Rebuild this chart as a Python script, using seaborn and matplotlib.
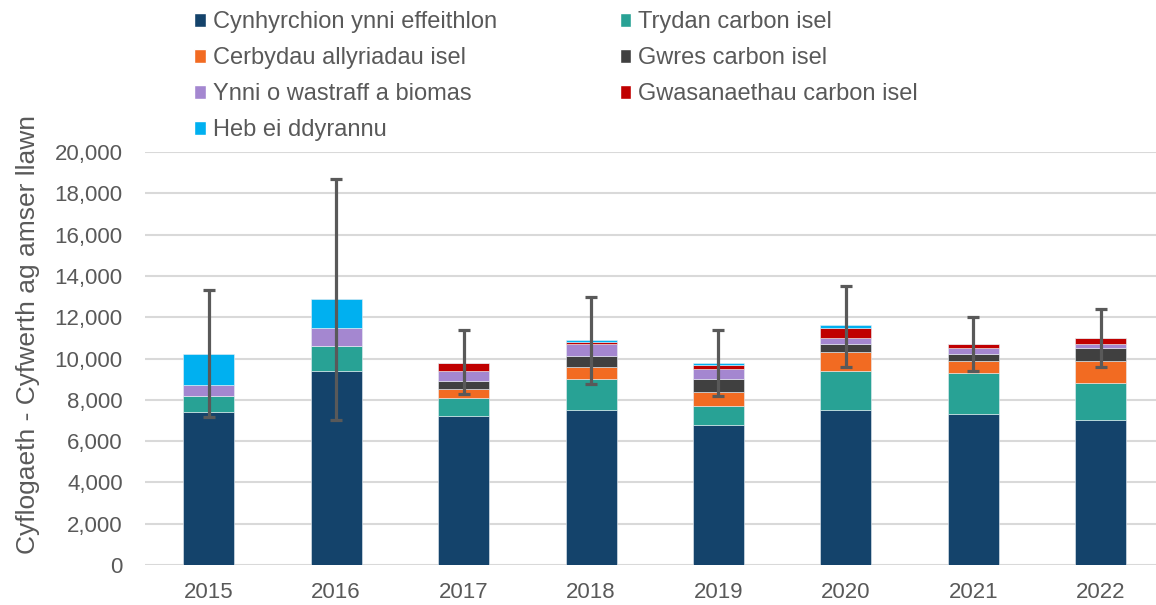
import numpy as np
import pandas as pd
import matplotlib
matplotlib.use("Agg")
import matplotlib.pyplot as plt
import seaborn as sns
from matplotlib.ticker import FuncFormatter
from matplotlib.patches import Patch

# Data
years = ["2015", "2016", "2017", "2018", "2019", "2020", "2021", "2022"]
cynhyrchion = [7400, 9400, 7200, 7500, 6800, 7500, 7300, 7000]
trydan = [800, 1200, 900, 1500, 900, 1900, 2000, 1800]
cerbydau = [0, 0, 400, 600, 700, 900, 600, 1100]
gwres = [0, 0, 400, 500, 600, 400, 300, 600]
ynni_gwastraff = [500, 900, 500, 600, 500, 300, 300, 200]
gwasanaethau = [0, 0, 400, 100, 200, 500, 200, 300]
heb_ddyrannu = [1500, 1400, 0, 100, 100, 100, 0, 0]
err_low = [7150, 7000, 8300, 8750, 8200, 9600, 9400, 9600]
err_high = [13300, 18700, 11400, 13000, 11400, 13500, 12000, 12400]

series = [
    ("Cynhyrchion ynni effeithlon", cynhyrchion, "#14436B"),
    ("Trydan carbon isel", trydan, "#28A295"),
    ("Cerbydau allyriadau isel", cerbydau, "#F26B22"),
    ("Gwres carbon isel", gwres, "#404040"),
    ("Ynni o wastraff a biomas", ynni_gwastraff, "#A487D0"),
    ("Gwasanaethau carbon isel", gwasanaethau, "#C00000"),
    ("Heb ei ddyrannu", heb_ddyrannu, "#00B0F0"),
]

sns.set_style("white")
plt.rcParams["font.family"] = ["Liberation Sans", "DejaVu Sans"]
text_col = "#595959"

fig = plt.figure(figsize=(11.56, 6.05), dpi=100)
ax = fig.add_axes([145 / 1156, 40 / 605, 1 - 145 / 1156, 413 / 605])

bottom = np.zeros(len(years))
for name, vals, col in series:
    df = pd.DataFrame({"year": years, "value": vals})
    sns.barplot(data=df, x="year", y="value", color=col, width=0.4,
                bottom=bottom, errorbar=None, ax=ax, saturation=1, zorder=3,
                edgecolor="#E8EEF3", linewidth=0.4)
    bottom = bottom + np.array(vals)

totals = bottom
yerr = [totals - np.array(err_low), np.array(err_high) - totals]
ax.errorbar(np.arange(len(years)), totals, yerr=yerr, fmt="none",
            ecolor="#595959", elinewidth=2.3, capsize=4.3, capthick=2.3, zorder=4)

ax.set_ylim(0, 20000)
ax.set_xlim(-0.5, 7.433)
ax.set_yticks(range(0, 20001, 2000))
ax.yaxis.set_major_formatter(FuncFormatter(lambda v, p: f"{int(v):,}"))
ax.grid(axis="y", color="#D9D9D9", linewidth=1.5, zorder=0)
ax.set_axisbelow(True)
for s in ax.spines.values():
    s.set_visible(False)
ax.tick_params(axis="both", length=0, labelsize=16, colors=text_col)
ax.tick_params(axis="y", pad=16)
ax.tick_params(axis="x", pad=12)
ax.set_xlabel("")
ax.set_ylabel("")
fig.text(28 / 1156, 1 - 334 / 605, "Cyflogaeth - Cyfwerth ag amser llawn",
         rotation=90, ha="center", va="center", fontsize=19, color=text_col)

# legend filled row-wise like the reference
handles = {name: Patch(facecolor=col) for name, _, col in series}
order = [0, 2, 4, 6, 1, 3, 5]
names = [series[i][0] for i in order]
leg = fig.legend([handles[n] for n in names], names, ncol=2, frameon=False,
                 loc="upper left", bbox_to_anchor=(185 / 1156, 1 - 2 / 605),
                 fontsize=17, handlelength=0.47, handleheight=0.55,
                 handletextpad=0.3, columnspacing=5.2, labelspacing=0.59,
                 borderaxespad=0)
for t in leg.get_texts():
    t.set_color(text_col)

fig.savefig("out.png", dpi=100)
